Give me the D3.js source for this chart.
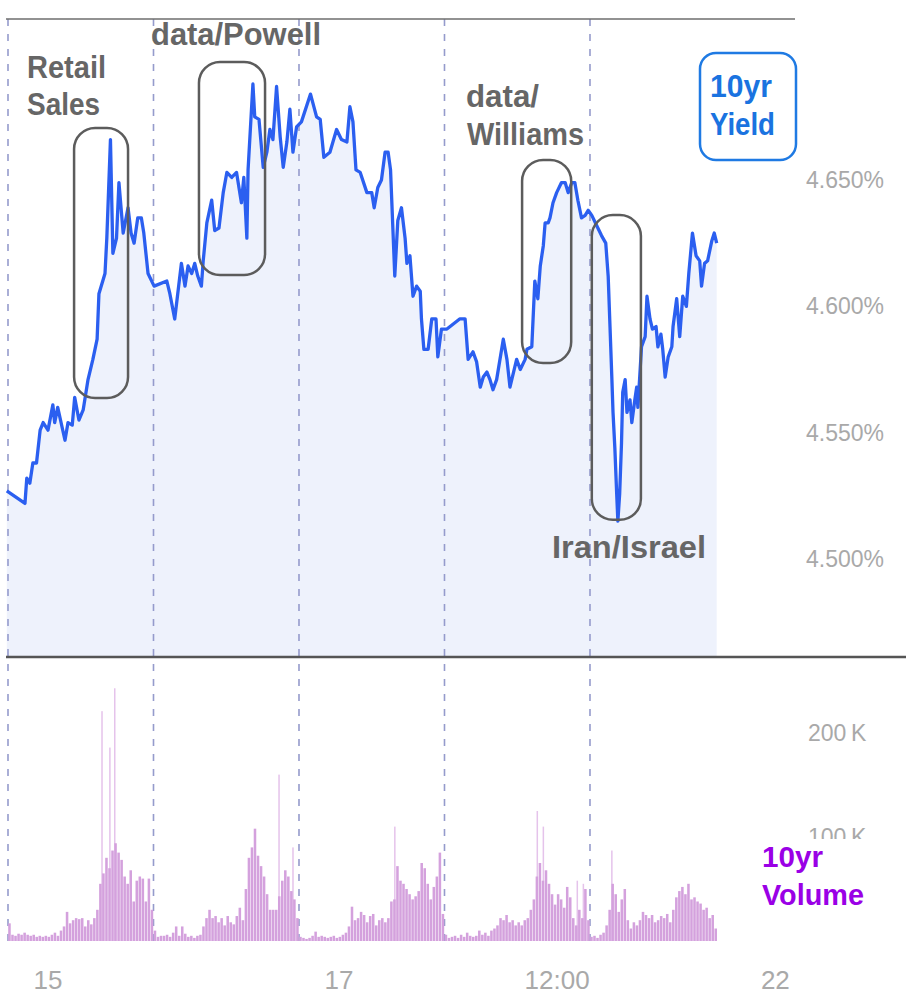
<!DOCTYPE html>
<html><head><meta charset="utf-8">
<script src="https://cdn.jsdelivr.net/npm/d3@7"></script>
<style>body{margin:0;background:#fff} svg{display:block}</style>
</head><body>
<svg id="c" width="906" height="1004"></svg>
<script>
// ---- DATA ----
// 10yr yield: [hours since midnight of the 15th (trading time, weekend removed), yield %]
const yieldSeries = [
[-6.2,4.527],[-3.2,4.522],[-2.9,4.532],[-2.4,4.530],[-1.9,4.538],[-1.3,4.538],[-0.7,4.551],[-0.2,4.554],[0.6,4.551],[1.4,4.561],
[1.7,4.554],[2.2,4.560],[3.4,4.547],[3.9,4.554],[4.6,4.553],[5.0,4.564],[5.7,4.555],[6.4,4.559],[7.2,4.571],[8.0,4.579],
[8.7,4.587],[9.0,4.605],[10.0,4.613],[10.3,4.627],[10.9,4.666],[11.3,4.621],[11.9,4.627],[12.3,4.649],[13.0,4.629],[13.8,4.639],
[14.3,4.629],[14.8,4.625],[15.4,4.635],[16.0,4.635],[16.4,4.629],[17.1,4.613],[18.1,4.608],[20.2,4.610],[20.7,4.605],[21.5,4.595],
[22.6,4.617],[23.2,4.608],[23.7,4.616],[24.3,4.613],[24.8,4.617],[25.3,4.612],[25.9,4.608],[26.2,4.618],[26.8,4.633],[27.6,4.642],
[28.1,4.630],[28.8,4.631],[29.5,4.645],[30.1,4.653],[30.9,4.651],[31.7,4.653],[32.5,4.641],[32.9,4.651],[33.4,4.627],[33.6,4.654],
[34.4,4.688],[34.7,4.675],[35.4,4.674],[36.1,4.655],[36.7,4.661],[37.2,4.670],[37.7,4.666],[38.3,4.687],[38.9,4.667],[39.4,4.655],
[40.0,4.665],[40.5,4.678],[41.0,4.661],[41.6,4.671],[42.4,4.673],[43.9,4.684],[44.9,4.675],[45.5,4.674],[46.1,4.659],[47.1,4.661],
[48.2,4.670],[49.0,4.666],[49.9,4.665],[50.4,4.679],[50.9,4.673],[51.4,4.654],[52.1,4.653],[53.2,4.645],[54.0,4.645],[54.4,4.639],
[55.0,4.647],[55.6,4.650],[56.2,4.661],[56.7,4.661],[57.1,4.654],[57.8,4.612],[58.3,4.634],[58.9,4.639],[59.5,4.627],[59.8,4.617],
[60.3,4.620],[60.8,4.604],[61.4,4.608],[62.0,4.606],[62.2,4.595],[62.6,4.583],[63.3,4.583],[63.9,4.595],[64.6,4.595],[64.9,4.580],
[65.5,4.591],[66.4,4.591],[68.5,4.595],[69.4,4.595],[69.9,4.579],[70.7,4.582],[71.3,4.578],[71.9,4.568],[72.4,4.572],[73.0,4.574],
[73.5,4.571],[74.0,4.567],[74.6,4.571],[75.7,4.587],[76.3,4.579],[76.8,4.568],[77.9,4.579],[78.5,4.575],[79.3,4.579],[79.6,4.583],
[80.4,4.584],[80.9,4.610],[81.4,4.603],[81.8,4.616],[82.3,4.624],[82.6,4.633],[83.1,4.633],[83.4,4.635],[83.9,4.641],[84.5,4.645],
[85.3,4.649],[85.9,4.649],[86.4,4.645],[87.0,4.649],[87.5,4.649],[88.0,4.642],[88.6,4.635],[89.2,4.636],[89.7,4.638],[90.3,4.636],
[91.1,4.632],[91.9,4.628],[92.6,4.625],[93.0,4.612],[93.3,4.592],[93.6,4.572],[93.8,4.558],[94.1,4.544],[94.4,4.526],[94.6,4.515],
[94.9,4.526],[95.2,4.546],[95.4,4.566],[95.8,4.571],[96.1,4.558],[96.6,4.563],[96.9,4.554],[97.4,4.563],[97.7,4.568],[97.9,4.560],
[98.5,4.584],[99.1,4.588],[99.4,4.604],[99.9,4.595],[100.3,4.591],[100.9,4.592],[101.2,4.584],[101.7,4.589],[102.0,4.583],[102.4,4.572],
[102.9,4.580],[103.5,4.584],[103.7,4.592],[104.3,4.603],[104.8,4.588],[105.3,4.604],[105.9,4.600],[106.3,4.613],[106.9,4.629],[107.5,4.620],
[108.1,4.618],[108.4,4.608],[108.9,4.617],[109.4,4.618],[110.1,4.626],[110.5,4.629],[110.9,4.625]
];

// 10yr volume (thousands of contracts), half-hour bars starting at hour -6
const volumeStartHour = -6;
const volumeStepHours = 0.5;
const volumes = [
17,6,5,7,6,8,6,5,6,4, 5,4,5,4,6,8,5,10,14,28, 17,20,22,21,22,14,20,16,22,30, 55,65,80,70,87,94,85,78,62,55, 68,38,58,62,60,38,60,30,
10,4,5,5,6,4,8,14,5,14, 7,4,5,3,5,6,14,22,30,22, 24,18,22,15,24,18,16,24,32,20, 50,80,90,108,82,72,62,45,30,30, 30,43,58,68,62,48,40,22,
4,3,2,3,5,9,4,5,4,3, 4,5,3,4,6,8,14,33,20,22, 28,25,18,24,26,15,20,22,18,22, 38,40,72,58,55,50,45,40,43,48, 75,70,55,40,52,62,85,26,
6,3,4,5,3,6,4,8,5,4, 5,10,6,8,5,10,12,15,22,20, 25,18,20,15,18,15,20,22,30,40, 62,75,58,68,55,45,35,45,40,32, 52,42,22,15,30,22,50,20,
4,5,3,6,8,15,30,55,45,28, 40,50,20,12,18,15,20,28,25,22, 25,18,20,24,22,26,18,30,42,48, 52,45,55,40,42,38,36,30,32,22, 25,12
];
// single-print volume spikes: [hour, thousands]
const volumeSpikes = [[9.5,221],[10.8,186],[11.6,243],[38.7,160],[41.0,90],[57.8,110],[81.3,125],[82.3,110],[87.9,58],[88.9,55],[93.6,87]];

// session boundaries (hours)
const sessionHours = [-6,18,42,66,90];
// x-axis ticks
const xTickHours = [0,48,84,120];
const xTickLabels = ["15","17","12:00","22"];
// y ticks
const yieldTicks = [4.50,4.55,4.60,4.65];
const volumeTicks = [100,200];

// highlighted events: [label, startHour, endHour, highYield, lowYield]
const eventWindows = [
  ["Retail Sales", 4.9, 13.8, 4.6706, 4.5637],
  ["data/Powell", 25.5, 36.4, 4.6967, 4.6124],
  ["data/Williams", 78.8, 86.9, 4.6579, 4.5776],
  ["Iran/Israel", 90.3, 98.4, 4.6361, 4.5155]
];

// ---- DRAW ----
const svg = d3.select("#c");
const x = d3.scaleLinear().domain([-6,111]).range([8,717.3]);
const y = d3.scaleLinear().domain([4.50,4.65]).range([559,180]);
const yv = d3.scaleLinear().domain([0,200]).range([941,733]);
const panelTop = 19, panelSplit = 657, volBase = 941;
const FONT = "'Liberation Sans', Arial, sans-serif";

// area under yield
svg.append("path").datum(yieldSeries)
  .attr("d", d3.area().x(d=>x(d[0])).y0(panelSplit).y1(d=>y(d[1])))
  .attr("fill","#eef2fc");

// session dashed lines
svg.selectAll(".sess").data(sessionHours).join("line")
  .attr("x1",d=>x(d)).attr("x2",d=>x(d))
  .attr("y1",panelTop).attr("y2",volBase+2)
  .attr("stroke","#959bcc").attr("stroke-width",1.6).attr("stroke-dasharray","7,8");

// volume spikes (behind bars)
svg.selectAll(".spk").data(volumeSpikes).join("rect")
  .attr("x",d=>x(d[0])-0.7).attr("width",1.5)
  .attr("y",d=>yv(d[1])).attr("height",d=>volBase-yv(d[1]))
  .attr("fill","#e5c3eb");

// volume bars
const bw = x(volumeStepHours)-x(0);
svg.selectAll(".vb").data(volumes).join("rect")
  .attr("x",(d,i)=>x(volumeStartHour+i*volumeStepHours)+0.2)
  .attr("width",bw-0.5)
  .attr("y",d=>yv(d)).attr("height",d=>volBase-yv(d))
  .attr("fill","#d4a1dd");

// yield line
svg.append("path").datum(yieldSeries)
  .attr("d", d3.line().x(d=>x(d[0])).y(d=>y(d[1])))
  .attr("fill","none").attr("stroke","#2b5ff0").attr("stroke-width",3.3)
  .attr("stroke-linejoin","round");

// frame lines
svg.append("line").attr("x1",6).attr("x2",795).attr("y1",panelTop).attr("y2",panelTop)
  .attr("stroke","#6e6e6e").attr("stroke-width",1.6);
svg.append("line").attr("x1",6).attr("x2",906).attr("y1",panelSplit).attr("y2",panelSplit)
  .attr("stroke","#555").attr("stroke-width",2.5);

// event boxes
svg.selectAll(".evt").data(eventWindows).join("rect")
  .attr("x",d=>x(d[1])).attr("width",d=>x(d[2])-x(d[1]))
  .attr("y",d=>y(d[3])).attr("height",d=>y(d[4])-y(d[3]))
  .attr("rx",21).attr("ry",21)
  .attr("fill","none").attr("stroke","#5c5c5c").attr("stroke-width",2.5);

// y axis (yield)
const gy = svg.append("g").attr("transform","translate(797,0)")
  .call(d3.axisRight(y).tickValues(yieldTicks).tickSize(0).tickPadding(9).tickFormat(d=>d.toFixed(3)+"%"));
// y axis (volume)
const gv = svg.append("g").attr("transform","translate(799,0)")
  .call(d3.axisRight(yv).tickValues(volumeTicks).tickSize(0).tickPadding(9).tickFormat(d=>d+"\u2009K"));
// x axis
const gx = svg.append("g").attr("transform","translate(3,971)")
  .call(d3.axisBottom(x).tickValues(xTickHours).tickSize(0).tickPadding(0).tickFormat((d,i)=>xTickLabels[i]));
[gy,gv,gx].forEach(g=>{
  g.select(".domain").remove();
  g.selectAll("text").attr("font-family",FONT).attr("fill","#a9a9a9");
});
gy.selectAll("text").attr("font-size",23);
gv.selectAll("text").attr("font-size",23);
gx.selectAll("text").attr("font-size",26);

// annotation texts
function label(txt, px, py, len, size, color){
  svg.append("text").attr("x",px).attr("y",py).text(txt)
    .attr("font-family",FONT).attr("font-weight","bold").attr("font-size",size)
    .attr("fill",color).attr("textLength",len).attr("lengthAdjust","spacingAndGlyphs");
}
const grey = "#666666";
label("Retail",27,78,79,31,grey);
label("Sales",27,115,73,31,grey);
label("data/Powell",151,45,170,31,grey);
label("data/",466,107,73,31,grey);
label("Williams",467,145,117,31,grey);
label("Iran/Israel",552,558,154,31,grey);

// 10yr Yield legend box
svg.append("rect").attr("x",700).attr("y",53).attr("width",96).attr("height",107)
  .attr("rx",16).attr("fill","#fff").attr("stroke","#1f7ae3").attr("stroke-width",2.5);
label("10yr",710,97,62,31,"#1a73e0");
label("Yield",710,135,65,31,"#1a73e0");

// 10yr Volume legend
svg.append("rect").attr("x",756).attr("y",839).attr("width",114).attr("height",76).attr("fill","#fff");
label("10yr",762,867,61,29,"#9a00e6");
label("Volume",762,905,102,29,"#9a00e6");
</script>
</body></html>
